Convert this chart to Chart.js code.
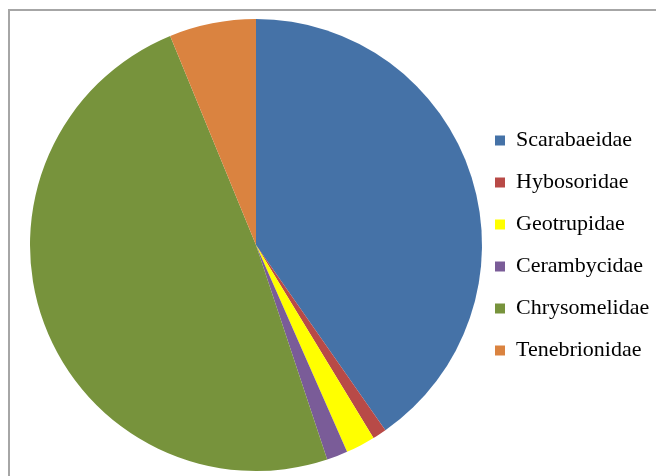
<!DOCTYPE html>
<html>
<head>
<meta charset="utf-8">
<script src="https://cdn.jsdelivr.net/npm/chart.js@4"></script>
<style>
  html, body { margin: 0; padding: 0; background: #fff; overflow: hidden; }
  #frame {
    position: absolute; left: 8px; top: 9px; width: 700px; height: 520px;
    border: 2px solid #a6a6a6; box-sizing: border-box;
  }
  #wrap { position: absolute; left: 0; top: 0; width: 656px; height: 476px; }
</style>
</head>
<body>
<div id="frame"></div>
<div id="wrap"><canvas id="grafico" width="656" height="476"></canvas></div>
<script>
// familias de besouros (percentual)
var familias = ["Scarabaeidae", "Hybosoridae", "Geotrupidae", "Cerambycidae", "Chrysomelidae", "Tenebrionidae"];
var valores = [40.3, 1.0, 2.1, 1.5, 48.9, 6.2];
var cores = ["#4572a7", "#b84a47", "#ffff00", "#7a5c98", "#77933c", "#da8340"];

var ctx = document.getElementById("grafico").getContext("2d");
var myChart = new Chart(ctx, {
  type: "pie",
  data: {
    labels: familias,
    datasets: [
      {
        data: valores,
        backgroundColor: cores,
        borderWidth: 0,
        hoverOffset: 0,
      },
    ],
  },
  options: {
    responsive: false,
    animation: false,
    layout: { padding: { left: 21, top: 19, bottom: 5, right: 0 } },
    plugins: {
      tooltip: { enabled: false },
      legend: {
        position: "right",
        maxWidth: 165,
        // titulo vazio so para descer a legenda
        title: { display: true, text: "", padding: 0, font: { size: 12, lineHeight: "17px" } },
        labels: {
          boxWidth: 10,
          boxHeight: 10,
          padding: 4,
          color: "#000",
          font: { family: "Liberation Serif", size: 22, lineHeight: "38px" },
          generateLabels: function (chart) {
            var itens = Chart.overrides.pie.plugins.legend.labels.generateLabels(chart);
            itens.forEach(function (it) { it.text = [it.text]; });
            return itens;
          },
        },
      },
    },
  },
});
</script>
</body>
</html>
